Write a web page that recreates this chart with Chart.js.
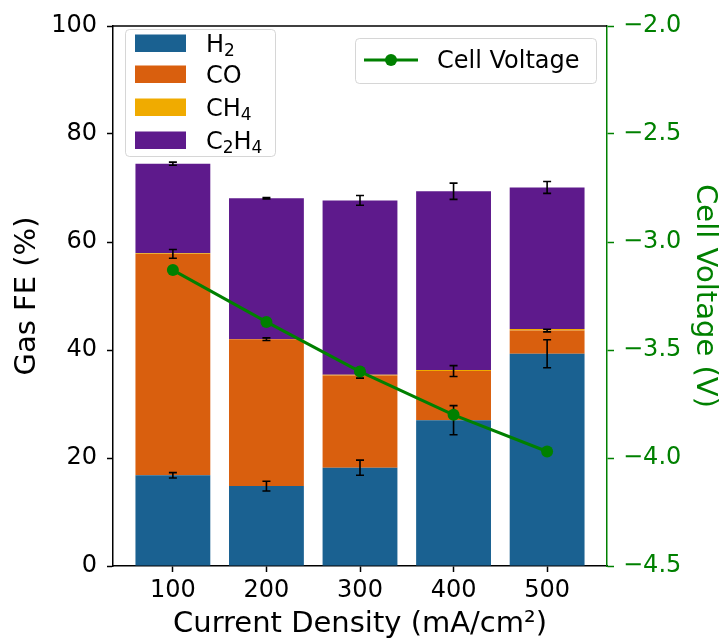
<!DOCTYPE html>
<html><head><meta charset="utf-8">
<script src="https://cdn.jsdelivr.net/npm/chart.js@4"></script>
<style>html,body{margin:0;padding:0;background:#fff}#wrap{position:relative;width:722px;height:642px}</style>
</head><body><div id="wrap"><canvas id="c" width="722" height="642"></canvas></div>
<script>
const categories = [100, 200, 300, 400, 500];
const h2 = [16.8, 14.8, 18.2, 27.0, 39.3];
const co = [41.0, 27.2, 17.1, 9.1, 4.3];
const ch4 = [0.1, 0.05, 0.1, 0.2, 0.3];
const c2h4 = [16.6, 26.05, 32.3, 33.1, 26.2];
const h2Err = [0.5, 0.9, 1.4, 2.7, 2.6];
const coErr = [0.8, 0.25, 0.5, 1.0, 0.25];
const c2h4Err = [0.3, 0.15, 0.9, 1.5, 1.1];
const cellVoltage = [-3.13, -3.37, -3.60, -3.80, -3.97];
const feTicks = [0, 20, 40, 60, 80, 100];
const voltTicks = [-4.5, -4.0, -3.5, -3.0, -2.5, -2.0];

const colors = { h2: '#1a6191', co: '#d95f0e', ch4: '#f0ab00', c2h4: '#5e1a8c', volt: '#008000' };
const FONT = '"DejaVu Sans", sans-serif';
Chart.defaults.font.family = FONT;
Chart.defaults.font.size = 24;
Chart.defaults.color = '#000';

const pts = arr => arr.map((v, i) => ({ x: categories[i], y: v }));
const minus = s => String(s).replace('-', '\u2212');

function stackTop(i, upto) {
  const series = [h2, co, ch4, c2h4];
  let s = 0;
  for (let k = 0; k <= upto; k++) s += series[k][i];
  return s;
}

const errorBars = {
  id: 'errorBars',
  beforeDatasetDraw(chart, args) {
    if (args.index !== 4) return;
    const ctx = chart.ctx, x = chart.scales.x, y = chart.scales.y;
    ctx.save();
    ctx.strokeStyle = '#000';
    ctx.lineWidth = 1.6;
    const sets = [[0, h2Err], [1, coErr], [3, c2h4Err]];
    categories.forEach((c, i) => {
      const px = x.getPixelForValue(c);
      sets.forEach(([lvl, err]) => {
        const top = stackTop(i, lvl);
        const y1 = y.getPixelForValue(top - err[i]);
        const y2 = y.getPixelForValue(top + err[i]);
        ctx.beginPath();
        ctx.moveTo(px, y1); ctx.lineTo(px, y2);
        ctx.moveTo(px - 4, y1); ctx.lineTo(px + 4, y1);
        ctx.moveTo(px - 4, y2); ctx.lineTo(px + 4, y2);
        ctx.stroke();
      });
    });
    ctx.restore();
  }
};

function drawParts(ctx, parts, x, y) {
  let cx = x;
  for (const [t, sub] of parts) {
    ctx.font = (sub ? 17 : 24) + 'px ' + FONT;
    ctx.fillText(t, cx, sub ? y + 3.5 : y);
    cx += ctx.measureText(t).width;
  }
}
function frame(ctx, x, y, w, h) {
  ctx.beginPath();
  if (ctx.roundRect) ctx.roundRect(x, y, w, h, 4); else ctx.rect(x, y, w, h);
  ctx.fillStyle = 'rgba(255,255,255,0.8)';
  ctx.fill();
  ctx.strokeStyle = 'rgba(204,204,204,0.8)';
  ctx.lineWidth = 1;
  ctx.stroke();
}
const seriesLabels = [
  [['H', false], ['2', true]],
  [['CO', false]],
  [['CH', false], ['4', true]],
  [['C', false], ['2', true], ['H', false], ['4', true]]
];
const seriesColors = [colors.h2, colors.co, colors.ch4, colors.c2h4];
const legendBaselines = [52, 83, 116, 149];

const extras = {
  id: 'extras',
  afterDraw(chart) {
    const ctx = chart.ctx, a = chart.chartArea;
    ctx.save();
    ctx.strokeStyle = '#000'; ctx.lineWidth = 1.5;
    ctx.beginPath(); ctx.moveTo(a.left, a.top); ctx.lineTo(a.right, a.top); ctx.stroke();
    frame(ctx, 125.5, 29.5, 150, 127);
    ctx.textBaseline = 'alphabetic';
    seriesLabels.forEach((parts, k) => {
      const b = legendBaselines[k];
      ctx.fillStyle = seriesColors[k];
      ctx.fillRect(135, b - 17.5, 51, 17.5);
      ctx.fillStyle = '#000';
      drawParts(ctx, parts, 206, b);
    });
    frame(ctx, 355.5, 38.5, 241, 45);
    ctx.strokeStyle = colors.volt; ctx.lineWidth = 3;
    ctx.beginPath(); ctx.moveTo(364, 60); ctx.lineTo(418, 60); ctx.stroke();
    ctx.fillStyle = colors.volt;
    ctx.beginPath(); ctx.arc(391, 60, 6, 0, Math.PI * 2); ctx.fill();
    ctx.fillStyle = '#000';
    ctx.font = '24px ' + FONT;
    ctx.fillText('Cell Voltage', 437, 68);
    ctx.restore();
  }
};

new Chart(document.getElementById('c'), {
  type: 'bar',
  data: {
    datasets: [
      { label: 'H2', data: pts(h2), backgroundColor: colors.h2, yAxisID: 'y', order: 1 },
      { label: 'CO', data: pts(co), backgroundColor: colors.co, yAxisID: 'y', order: 1 },
      { label: 'CH4', data: pts(ch4), backgroundColor: colors.ch4, yAxisID: 'y', order: 1 },
      { label: 'C2H4', data: pts(c2h4), backgroundColor: colors.c2h4, yAxisID: 'y', order: 1 },
      { type: 'line', label: 'Cell Voltage', data: pts(cellVoltage), yAxisID: 'y2', order: 0,
        borderColor: colors.volt, backgroundColor: colors.volt, borderWidth: 3,
        pointRadius: 6, pointBackgroundColor: colors.volt, pointBorderWidth: 0, tension: 0 }
    ]
  },
  options: {
    responsive: false,
    animation: false,
    devicePixelRatio: 1,
    layout: { padding: { top: 26, left: 0, right: 0, bottom: 0 } },
    datasets: { bar: { barPercentage: 1, categoryPercentage: 0.8 } },
    plugins: { legend: { display: false }, tooltip: { enabled: false } },
    scales: {
      x: {
        type: 'linear', stacked: true, min: 36, max: 564, offset: false,
        afterBuildTicks: s => { s.ticks = categories.map(v => ({ value: v })); },
        afterFit: s => { s.height = 76; },
        ticks: { padding: 4, color: '#000', font: { size: 24 } },
        grid: { offset: false, drawOnChartArea: false, drawTicks: true, tickLength: 6, tickColor: '#000', tickWidth: 1.5 },
        border: { display: true, color: '#000', width: 1.5 },
        title: { display: true, text: 'Current Density (mA/cm\u00B2)', font: { size: 29 }, color: '#000', padding: { top: -1, bottom: 0 } }
      },
      y: {
        position: 'left', stacked: true, min: 0, max: 100,
        afterBuildTicks: s => { s.ticks = feTicks.map(v => ({ value: v })); },
        afterFit: s => { s.width = 113; },
        ticks: { padding: 10, color: '#000', font: { size: 24 } },
        grid: { drawOnChartArea: false, drawTicks: true, tickLength: 6, tickColor: '#000', tickWidth: 1.5 },
        border: { display: true, color: '#000', width: 1.5 },
        title: { display: true, text: 'Gas FE (%)', font: { size: 29 }, color: '#000', padding: { top: 10, bottom: 0 } }
      },
      y2: {
        position: 'right', min: -4.5, max: -2.0,
        afterBuildTicks: s => { s.ticks = voltTicks.map(v => ({ value: v })); },
        afterFit: s => { s.width = 115; },
        ticks: { padding: 9, color: colors.volt, font: { size: 24 }, callback: v => minus(v.toFixed(1)) },
        grid: { drawOnChartArea: false, drawTicks: true, tickLength: 7, tickColor: colors.volt, tickWidth: 1.5 },
        border: { display: true, color: colors.volt, width: 1.5 },
        title: { display: true, text: 'Cell Voltage (V)', font: { size: 29 }, color: colors.volt, padding: { top: 0, bottom: 0 } }
      }
    }
  },
  plugins: [errorBars, extras]
});
</script>
</body></html>
